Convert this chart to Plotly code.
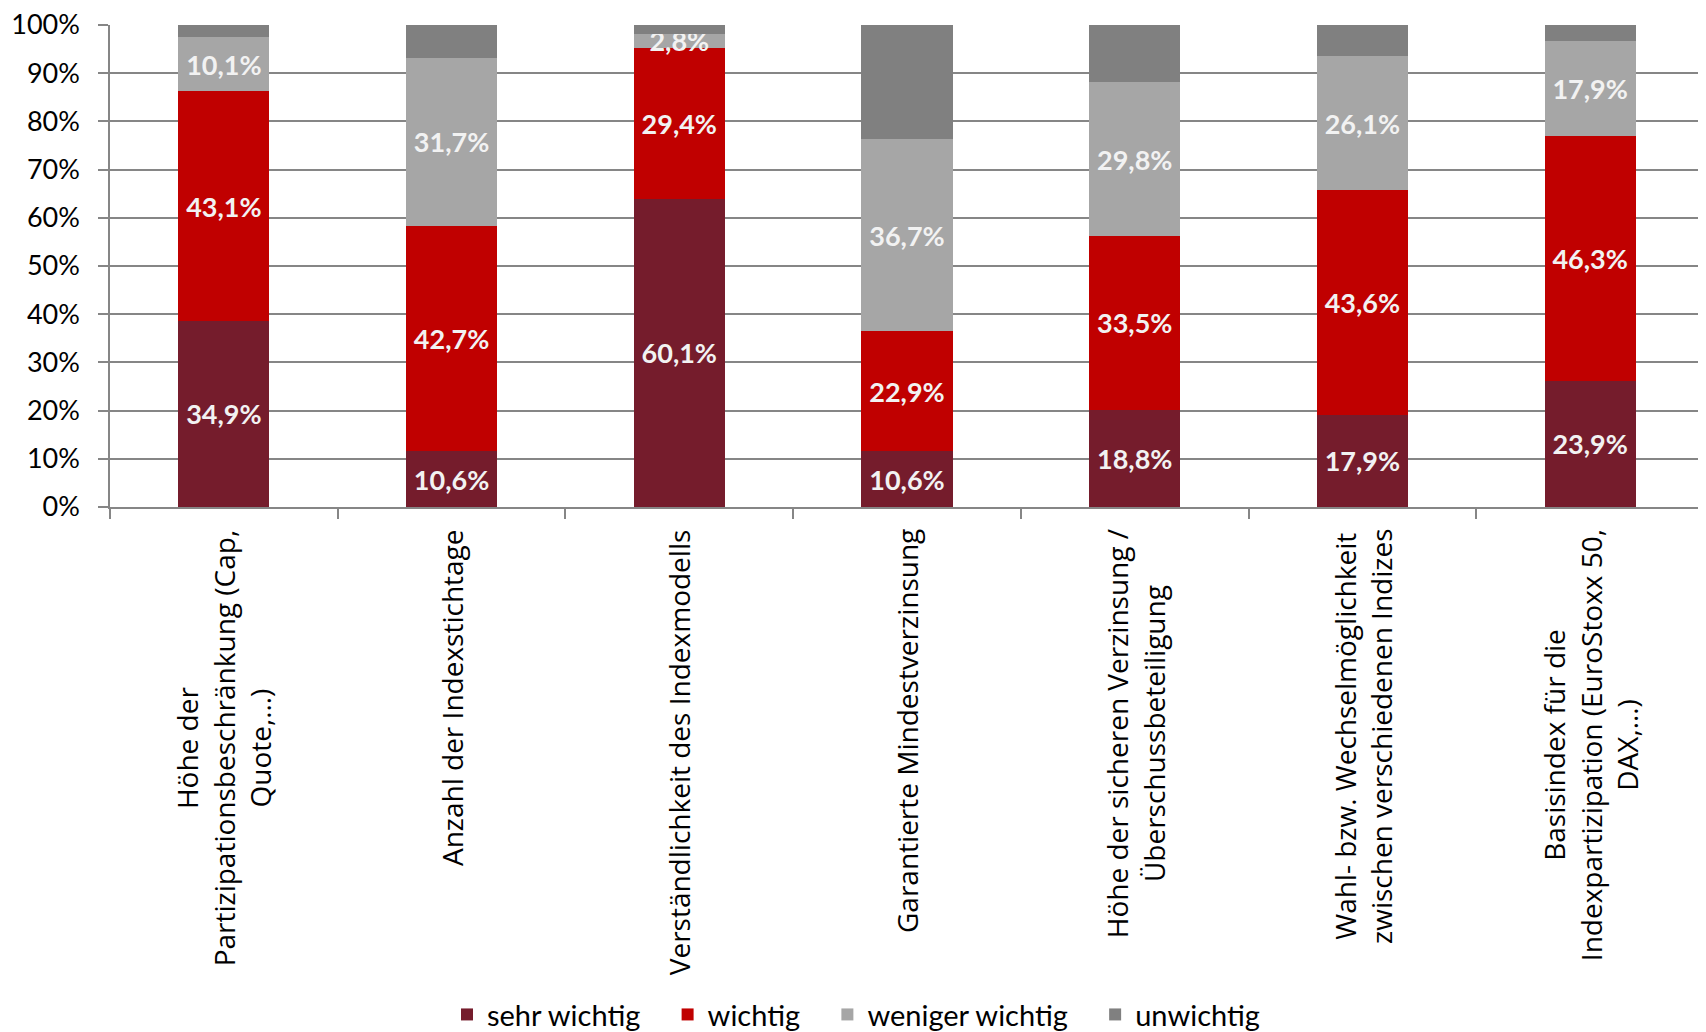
import plotly.graph_objects as go

categories = [
    "Höhe der<br>Partizipationsbeschränkung (Cap,<br>Quote,…)",
    "Anzahl der Indexstichtage",
    "Verständlichkeit des Indexmodells",
    "Garantierte Mindestverzinsung",
    "Höhe der sicheren Verzinsung /<br>Überschussbeteiligung",
    "Wahl- bzw. Wechselmöglichkeit<br>zwischen verschiedenen Indizes",
    "Basisindex für die<br>Indexpartizipation (EuroStoxx 50,<br>DAX,…)",
]
sehr_wichtig = [34.9, 10.6, 60.1, 10.6, 18.8, 17.9, 23.9]
wichtig = [43.1, 42.7, 29.4, 22.9, 33.5, 43.6, 46.3]
weniger_wichtig = [10.1, 31.7, 2.8, 36.7, 29.8, 26.1, 17.9]
unwichtig = [2.3, 6.3, 1.7, 21.8, 11.0, 6.0, 3.0]

series = [
    ("sehr wichtig", sehr_wichtig, "#751C2C", True),
    ("wichtig", wichtig, "#C00000", True),
    ("weniger wichtig", weniger_wichtig, "#A6A6A6", True),
    ("unwichtig", unwichtig, "#808080", False),
]

x_idx = list(range(len(categories)))

def fmt(v):
    return f"{v:.1f}".replace(".", ",") + "%"

PAD = "\u00a0\u00a0\u00a0"

fig = go.Figure()
for k, (name, vals, color, labelled) in enumerate(series):
    fig.add_trace(go.Bar(
        name=name + (PAD if k < len(series) - 1 else ""),
        x=x_idx,
        y=vals,
        marker=dict(color=color, line=dict(width=0)),
        text=[fmt(v) for v in vals] if labelled else None,
        textposition="inside" if labelled else "none",
        insidetextanchor="middle",
        textangle=0,
        textfont=dict(family="Lato", size=27, color="#F2F2F2", weight="bold"),
        hoverinfo="name+y",
    ))

for i, cat in enumerate(categories):
    fig.add_annotation(
        x=i, xref="x", y=0, yref="paper", yanchor="top", xanchor="center",
        yshift=-20, text=cat, textangle=-90, align="center", showarrow=False,
        font=dict(family="Open Sans", size=28, color="#000000"),
    )

fig.update_layout(
    width=1698, height=1024,
    barmode="stack", barnorm="percent", bargap=0.6,
    plot_bgcolor="white", paper_bgcolor="white",
    margin=dict(l=102, r=2, t=17, b=525, autoexpand=False),
    uniformtext=dict(minsize=27, mode="show"),
    showlegend=True,
    legend=dict(
        orientation="h", x=0.468, xanchor="center",
        yref="container", y=0.017, yanchor="middle",
        font=dict(family="Lato", size=29, color="#000000"),
        traceorder="normal", itemwidth=30,
    ),
    font=dict(family="Lato"),
)
fig.update_xaxes(
    type="linear", range=[-0.5, len(categories) - 0.5],
    tickvals=[i - 0.5 for i in range(len(categories) + 1)],
    showticklabels=False, ticks="outside", ticklen=10, tickcolor="#868686",
    tickwidth=1.5, showgrid=False, showline=True, linecolor="#868686", linewidth=1.5,
    zeroline=False,
)
fig.update_yaxes(
    range=[0, 100], dtick=10, ticksuffix="%",
    ticks="outside", ticklen=10, tickcolor="#868686", tickwidth=1.5,
    showgrid=True, gridcolor="#868686", gridwidth=1.5,
    showline=True, linecolor="#868686", linewidth=1.5, zeroline=False,
    tickfont=dict(family="Lato", size=27, color="#000000"),
    ticklabelstandoff=13, ticklabeloverflow="allow",
)

fig.write_html("out.html")
